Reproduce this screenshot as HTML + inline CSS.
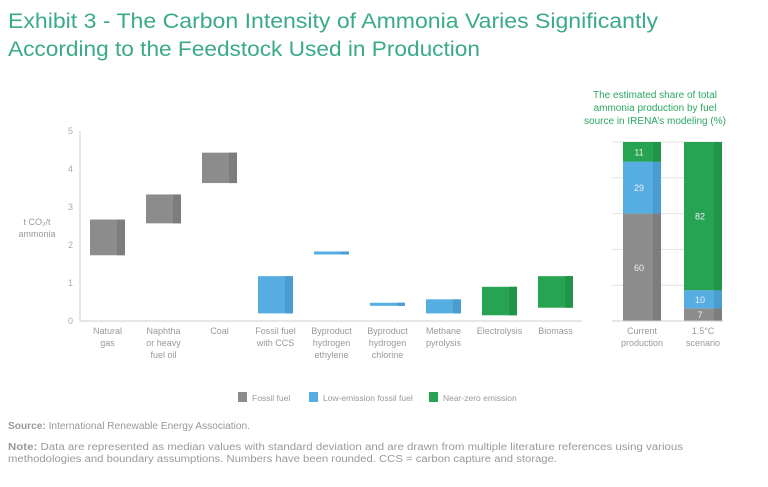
<!DOCTYPE html>
<html><head><meta charset="utf-8"><style>
body{margin:0;background:#fff;width:768px;height:487px;overflow:hidden}
svg{display:block;font-family:"Liberation Sans",sans-serif}
</style></head><body>
<svg id="c" width="768" height="487" viewBox="0 0 768 487">
<text x="8" y="28" font-size="21.5" fill="#3aaa8a" textLength="650" lengthAdjust="spacingAndGlyphs">Exhibit 3 - The Carbon Intensity of Ammonia Varies Significantly</text>
<text x="8" y="56" font-size="21.5" fill="#3aaa8a" textLength="472" lengthAdjust="spacingAndGlyphs">According to the Feedstock Used in Production</text>
<text x="655" y="98" font-size="10" fill="#2aa860" text-anchor="middle">The estimated share of total</text>
<text x="655" y="111" font-size="10" fill="#2aa860" text-anchor="middle">ammonia production by fuel</text>
<text x="655" y="124" font-size="10" fill="#2aa860" text-anchor="middle">source in IRENA’s modeling (%)</text>
<text x="37" y="225" font-size="9" fill="#999" text-anchor="middle">t CO₂/t</text>
<text x="37" y="237" font-size="9" fill="#999" text-anchor="middle">ammonia</text>
<g id="left"></g><g id="right"></g>
<g>
<rect x="238" y="392" width="9" height="10" fill="#8c8c8c"/>
<text x="252" y="401" font-size="8.5" fill="#999">Fossil fuel</text>
<rect x="309" y="392" width="9" height="10" fill="#55ade2"/>
<text x="323" y="401" font-size="8.5" fill="#999">Low-emission fossil fuel</text>
<rect x="429" y="392" width="9" height="10" fill="#27a453"/>
<text x="443" y="401" font-size="8.5" fill="#999">Near-zero emission</text>
</g>
<text x="8" y="429" font-size="10" fill="#999" textLength="242" lengthAdjust="spacingAndGlyphs"><tspan font-weight="bold">Source:</tspan> International Renewable Energy Association.</text>
<text x="8" y="450" font-size="10" fill="#999" textLength="675" lengthAdjust="spacingAndGlyphs"><tspan font-weight="bold">Note:</tspan> Data are represented as median values with standard deviation and are drawn from multiple literature references using various</text>
<text x="8" y="462" font-size="10" fill="#999" textLength="549" lengthAdjust="spacingAndGlyphs">methodologies and boundary assumptions. Numbers have been rounded. CCS = carbon capture and storage.</text>
</svg>
<script>
const categories=[["Natural","gas"],["Naphtha","or heavy","fuel oil"],["Coal"],["Fossil fuel","with CCS"],["Byproduct","hydrogen","ethylene"],["Byproduct","hydrogen","chlorine"],["Methane","pyrolysis"],["Electrolysis"],["Biomass"]];
const lowValues=[1.73,2.57,3.63,0.2,1.75,0.4,0.2,0.15,0.35];
const highValues=[2.67,3.33,4.43,1.18,1.83,0.48,0.57,0.9,1.18];
const groups=[0,0,0,1,1,1,1,2,2];
const yTicks=[0,1,2,3,4,5];
const scenarios=[["Current","production"],["1.5°C","scenario"]];
const fossilShare=[60,7];
const lowShare=[29,10];
const nearZeroShare=[11,82];
const fill=["#8c8c8c","#55ade2","#27a453"],dark=["#7d7d7d","#4a9dd0","#20954a"];
const NS="http://www.w3.org/2000/svg";
function mk(p,t,a){const e=document.createElementNS(NS,t);for(const k in a)e.setAttribute(k,a[k]);p.appendChild(e);return e;}
const L=document.getElementById('left'),R=document.getElementById('right');
const y=v=>321-v*38, x=i=>107.5+i*56;
let ax=mk(L,'line',{x1:80,x2:80,y1:131,y2:321,stroke:'#ccc'});

let bx=mk(L,'line',{x1:80,x2:582,y1:321,y2:321,stroke:'#ccc'});

yTicks.forEach(t=>{const e=mk(L,'text',{x:73,y:y(t)+3,'font-size':9,fill:'#aaa','text-anchor':'end'});e.textContent=t;

});
categories.forEach((c,i)=>{const g=groups[i];
const r=mk(L,'rect',{x:x(i)-17.5,y:y(highValues[i]),width:35,height:y(lowValues[i])-y(highValues[i]),fill:fill[g]});


const s=mk(L,'rect',{x:x(i)+9.5,y:y(highValues[i]),width:8,height:y(lowValues[i])-y(highValues[i]),fill:dark[g]});


c.forEach((ln,j)=>{const t=mk(L,'text',{x:x(i),y:334+j*12,'font-size':9,fill:'#999','text-anchor':'middle'});t.textContent=ln;

});});
const py=p=>321-p*1.79;
[0,20,40,60,80,100].forEach(p=>{const l=mk(R,'line',{x1:612,x2:723,y1:py(p),y2:py(p),stroke:'#e2e2e2'});

});
scenarios.forEach((s,i)=>{const bx0=623+i*61;let base=0;
const vals=[fossilShare[i],lowShare[i],nearZeroShare[i]];
const tot=vals.reduce((a,b)=>a+b,0);
vals.forEach((v,k)=>{
const b0=base/tot*100,b1=(base+v)/tot*100;
const r=mk(R,'rect',{x:bx0,y:py(b1),width:38,height:py(b0)-py(b1),fill:fill[k]});


const d=mk(R,'rect',{x:bx0+30,y:py(b1),width:8,height:py(b0)-py(b1),fill:dark[k]});


const t=mk(R,'text',{x:bx0+16,y:(py(b0)+py(b1))/2+3.5,'font-size':9,fill:'#eee','text-anchor':'middle'});t.textContent=v;


base+=v;});
s.forEach((ln,j)=>{const t=mk(R,'text',{x:bx0+19,y:334+j*12,'font-size':9,fill:'#999','text-anchor':'middle'});t.textContent=ln;

});});
let rb=mk(R,'line',{x1:612,x2:723,y1:321,y2:321,stroke:'#ccc'});


</script>
</body></html>
